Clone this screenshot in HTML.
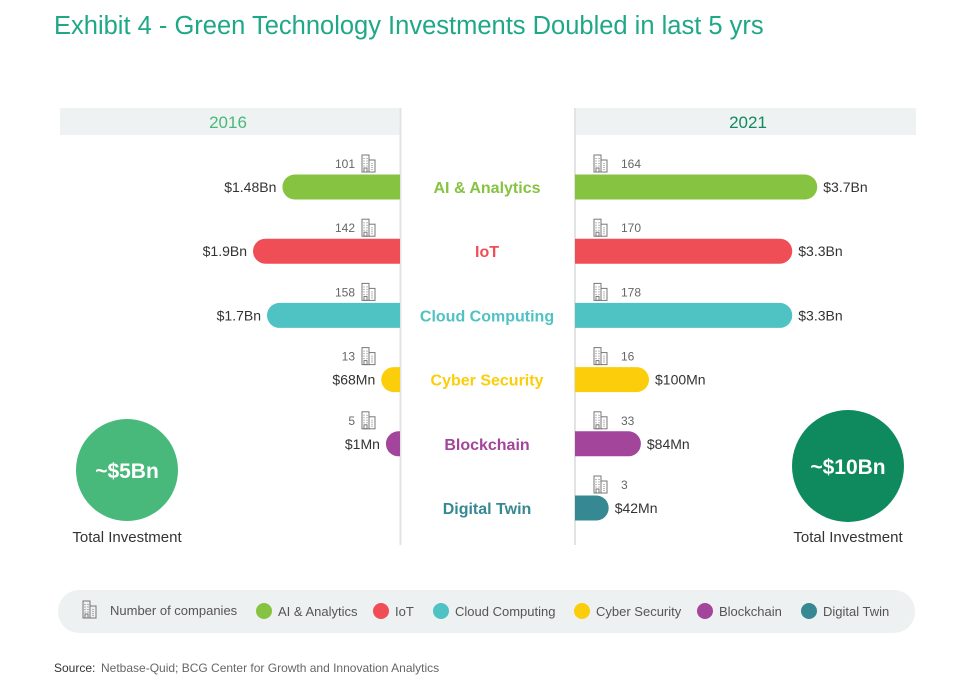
<!DOCTYPE html>
<html><head><meta charset="utf-8"><style>
body{margin:0;background:#fff;font-family:"Liberation Sans",sans-serif;}
#root{position:relative;width:971px;height:689px;overflow:hidden;}
.t{position:absolute;white-space:nowrap;}
</style></head><body>
<div id="root">
<div class="t" style="left:54px;top:12px;font-size:25.5px;color:#1fa887;">Exhibit 4 - Green Technology Investments Doubled in last 5 yrs</div>
<svg id="chart" width="971" height="689" style="position:absolute;left:0;top:0"></svg>
</div>
<script>
const categories=["AI & Analytics","IoT","Cloud Computing","Cyber Security","Blockchain","Digital Twin"];
const colors=["#86c341","#ef4e57","#4fc2c3","#fccd0a","#a2459b","#368892"];
const invest2016=[1480,1900,1700,68,1,null];
const labels2016=["$1.48Bn","$1.9Bn","$1.7Bn","$68Mn","$1Mn",null];
const companies2016=[101,142,158,13,5,null];
const invest2021=[3700,3300,3300,100,84,42];
const labels2021=["$3.7Bn","$3.3Bn","$3.3Bn","$100Mn","$84Mn","$42Mn"];
const companies2021=[164,170,178,16,33,3];
const totals=["~$5Bn","~$10Bn"];

const NS="http://www.w3.org/2000/svg";
const svg=document.getElementById('chart');
function mk(tag,attrs,parent){const e=document.createElementNS(NS,tag);for(const k in attrs)e.setAttribute(k,attrs[k]);(parent||svg).appendChild(e);return e;}
function txt(x,y,s,attrs){const e=mk('text',Object.assign({x:x,y:y,'font-family':'Liberation Sans, sans-serif'},attrs));e.textContent=s;return e;}
const L0=400,R0=575;
function scaleLeft(v){return Math.max(12,14+v*0.07);}
function scaleRight(v){return v>=1000?11+v*0.0625:Math.max(20,107*Math.log10(v)-140);}
function rowY(i){return 187+i*64.2;}
function building(x,y){const g=mk('g',{transform:`translate(${x},${y})`,fill:'none',stroke:'#777','stroke-width':1});
 mk('rect',{x:0,y:0,width:7,height:17},g);mk('rect',{x:7,y:5,width:6,height:12},g);mk('rect',{x:2,y:13,width:3,height:4},g);
 for(let r=0;r<4;r++){mk('line',{x1:2,y1:3+r*2.5,x2:2,y2:4+r*2.5},g);mk('line',{x1:5,y1:3+r*2.5,x2:5,y2:4+r*2.5},g);mk('line',{x1:10,y1:8+r*2,x2:10,y2:9+r*2},g);}
 return g;}
let e;
e=mk('rect',{x:60,y:108,width:340,height:27,fill:'#eff2f2'});

e=mk('rect',{x:575,y:108,width:341,height:27,fill:'#eff2f2'});

txt(228,128,"2016",{'font-size':17,fill:'#48b97a','text-anchor':'middle'});
txt(748,128,"2021",{'font-size':17,fill:'#128a5e','text-anchor':'middle'});
mk('line',{x1:400.5,y1:108,x2:400.5,y2:545,stroke:'#e2e4e4','stroke-width':2});
mk('line',{x1:575,y1:108,x2:575,y2:545,stroke:'#e2e4e4','stroke-width':2});
categories.forEach((c,i)=>{
 const y=rowY(i),h=25;
 if(invest2016[i]!=null){
  const w=scaleLeft(invest2016[i]);
  e=mk('path',{d:`M${L0},${y-h/2} H${L0-w+h/2} A${h/2},${h/2} 0 0 0 ${L0-w+h/2},${y+h/2} H${L0} Z`,fill:colors[i]});
  
  txt(L0-w-6,y+5,labels2016[i],{'font-size':14,fill:'#333','text-anchor':'end'});
  txt(355,y-19,String(companies2016[i]),{'font-size':12,fill:'#666','text-anchor':'end'});
  building(362,y-32);
 }
 const w2=scaleRight(invest2021[i]);
 e=mk('path',{d:`M${R0},${y-h/2} H${R0+w2-h/2} A${h/2},${h/2} 0 0 1 ${R0+w2-h/2},${y+h/2} H${R0} Z`,fill:colors[i]});
 
 txt(R0+w2+6,y+5,labels2021[i],{'font-size':14,fill:'#333'});
 building(594,y-32);
 txt(621,y-19,String(companies2021[i]),{'font-size':12,fill:'#666'});
 e=txt(487,y+6,c,{'font-size':16,'font-weight':'bold',fill:colors[i],'text-anchor':'middle'});
 
});
e=mk('circle',{cx:127,cy:470,r:51,fill:'#48b97a'});
txt(127,478,totals[0],{'font-size':21,'font-weight':'bold',fill:'#fff','text-anchor':'middle'});
txt(127,542,"Total Investment",{'font-size':15,fill:'#333','text-anchor':'middle'});
e=mk('circle',{cx:848,cy:466,r:56,fill:'#0f8a5e'});
txt(848,474,totals[1],{'font-size':21,'font-weight':'bold',fill:'#fff','text-anchor':'middle'});
txt(848,542,"Total Investment",{'font-size':15,fill:'#333','text-anchor':'middle'});
e=mk('rect',{x:58,y:590,width:857,height:43,rx:21,fill:'#eef1f1'});
building(83,601);
txt(110,615,"Number of companies",{'font-size':13,fill:'#555'});
const lx=[264,381,441,582,705,809];
categories.forEach((c,i)=>{
 e=mk('circle',{cx:lx[i],cy:611,r:8,fill:colors[i]});
 txt(lx[i]+14,616,c,{'font-size':13,fill:'#555'});
});
txt(54,672,"Source: ",{'font-size':12,fill:'#333'});
txt(101,672,"Netbase-Quid; BCG Center for Growth and Innovation Analytics",{'font-size':12,fill:'#666'});
</script>
</body></html>
